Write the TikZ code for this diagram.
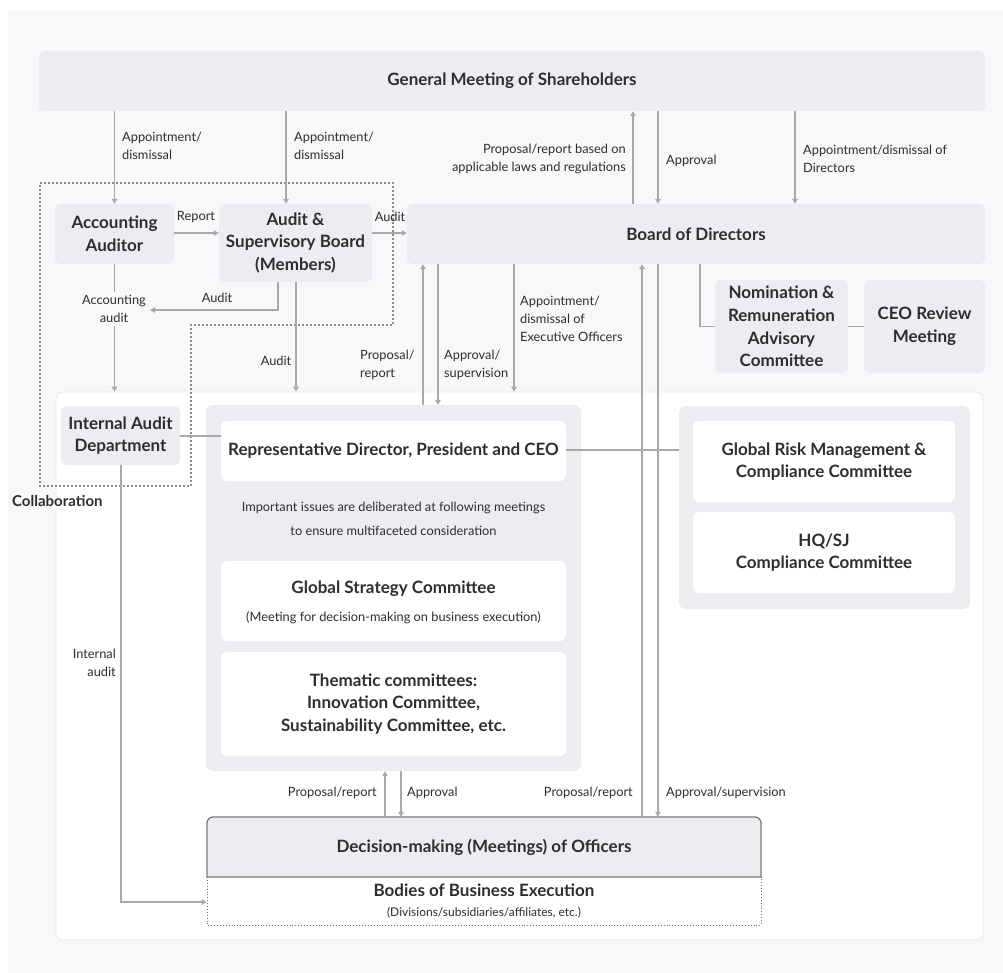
\documentclass[tikz,border=0pt]{standalone}
\usepackage{fontspec}
\setmainfont{Lato}
\usetikzlibrary{arrows.meta}
\definecolor{bgc}{HTML}{F7F8FA}
\definecolor{boxc}{HTML}{EBEDF1}
\definecolor{txtc}{HTML}{2E2E2E}
\definecolor{arrc}{HTML}{A9A9AB}
\definecolor{panelb}{HTML}{E7E9EC}
\definecolor{decb}{HTML}{7A7A7A}
\definecolor{dotc}{HTML}{8A8A8A}
\begin{document}
\begin{tikzpicture}[x=1pt,y=-1pt,
  every node/.style={text=txtc, inner sep=0pt},
  title/.style={font=\fontsize{17}{22.7}\selectfont\bfseries, align=center},
  gbox/.style={fill=boxc, rounded corners=6pt, title},
  wbox/.style={fill=white, rounded corners=6pt, title},
  lbl/.style={font=\fontsize{12.8}{18}\selectfont, align=left},
  lblr/.style={font=\fontsize{12.8}{18}\selectfont, align=right},
  conn/.style={draw=arrc, line width=1.6pt},
  arr/.style={conn, -{Triangle[length=5pt,width=5.5pt]}},
]
\useasboundingbox (0,0) rectangle (1003,973);
\fill[white] (0,0) rectangle (1003,973);
\fill[bgc] (8,11) rectangle (1003,973);

% top row
\node[gbox, minimum width=946pt, minimum height=60pt] (gms) at (512,81) {General Meeting of Shareholders};
\node[gbox, minimum width=119pt, minimum height=60pt] (acc) at (114.5,234) {Accounting\\Auditor};
\node[gbox, minimum width=153pt, minimum height=78pt] (asb) at (295.5,243) {Audit \&\\Supervisory Board\\(Members)};
\node[gbox, minimum width=578pt, minimum height=60pt] (bod) at (696,234) {Board of Directors};
\node[gbox, minimum width=133pt, minimum height=93pt] (nom) at (781.5,326.5) {Nomination \&\\Remuneration\\Advisory\\Committee};
\node[gbox, minimum width=121pt, minimum height=93pt] (cer) at (924.5,326.5) {CEO Review\\Meeting};

% execution panel
\node[fill=white, draw=panelb, line width=0.8pt, rounded corners=7pt, minimum width=927pt, minimum height=548pt] (exe) at (519.5,666) {};
\node[gbox, minimum width=119pt, minimum height=59pt] (iad) at (120.5,435.5) {Internal Audit\\Department};
\node[fill=boxc, rounded corners=7pt, minimum width=375pt, minimum height=366pt] (cpan) at (393.5,588) {};
\node[wbox, minimum width=345pt, minimum height=60pt] (ceo) at (393.5,451) {Representative Director, President and CEO};
\node[font=\fontsize{12.8}{24}\selectfont, align=center] (note) at (393.5,519) {Important issues are deliberated at following meetings\\to ensure multifaceted consideration};
\node[wbox, minimum width=345pt, minimum height=80pt] (gsc) at (393.5,601) {};
\node[title] (gsct) at (393.5,589) {Global Strategy Committee};
\node[font=\fontsize{12.8}{14}\selectfont] (gscs) at (393.5,618) {(Meeting for decision-making on business execution)};
\node[wbox, minimum width=345pt, minimum height=104pt] (them) at (393.5,704) {Thematic committees:\\Innovation Committee,\\Sustainability Committee, etc.};

\node[fill=boxc, rounded corners=7pt, minimum width=291pt, minimum height=203pt] (rpan) at (824.5,507.5) {};
\node[wbox, minimum width=262pt, minimum height=81pt] (grm) at (824,461.5) {Global Risk Management \&\\Compliance Committee};
\node[wbox, minimum width=262pt, minimum height=81pt] (hq) at (824,552.5) {HQ/SJ\\Compliance Committee};

% decision-making and bodies
\draw[dotc!80!black, dotted, line width=0.9pt] (207,877) -- (207,925) -- (761,925) -- (761,877);
\draw[draw=decb, line width=1.3pt, fill=boxc] (207,877) [rounded corners=6pt] -- (207,817) -- (761,817) [sharp corners] -- (761,877) -- cycle;
\node[title, minimum width=554pt, minimum height=60pt] (dec) at (484,847) {Decision-making (Meetings) of Officers};
\node[minimum width=554pt, minimum height=48pt] (bbe) at (484,901) {};
\node[title] (bbet) at (484,890) {Bodies of Business Execution};
\node[font=\fontsize{12}{13}\selectfont] (bbes) at (484,913) {(Divisions/subsidiaries/affiliates, etc.)};

% collaboration outline
\draw[dotc, line width=1.6pt, dash pattern=on 1.8pt off 2.2pt] (40,183) -- (393,183) -- (393,325) -- (191,325) -- (191,486) -- (40,486) -- cycle;
\node[font=\fontsize{15}{17}\selectfont\bfseries, anchor=west] (collab) at (12,501) {Collaboration};

% connectors: top
\draw[arr] (acc.north |- gms.south) -- (acc.north);
\draw[arr] (286,0 |- gms.south) -- (286,0 |- asb.north);
\draw[arr] (633,0 |- bod.north) -- (633,0 |- gms.south);
\draw[arr] (658,0 |- gms.south) -- (658,0 |- bod.north);
\draw[arr] (795,0 |- gms.south) -- (795,0 |- bod.north);
\draw[arr] (acc.east |- 0,233) -- (asb.west |- 0,233);
\draw[arr] (asb.east |- 0,233) -- (bod.west |- 0,233);

% accounting audit
\draw[arr] (acc.south) -- (acc.south |- exe.north);
\draw[arr] (278,0 |- asb.south) -- (278,310) -- (150,310);
\draw[arr] (296,0 |- asb.south) -- (296,0 |- exe.north);
\draw[arr] (423,0 |- cpan.north) -- (423,0 |- bod.south);
\draw[arr] (438,0 |- bod.south) -- (438,0 |- cpan.north);
\draw[arr] (514,0 |- bod.south) -- (514,0 |- exe.north);
\draw[conn] (700,0 |- bod.south) -- (700,0 |- nom.west) -- (nom.west);
\draw[conn] (nom.east) -- (cer.west);

% inside execution
\draw[conn] (iad.east |- 0,436) -- (ceo.west |- 0,436);
\draw[conn] (ceo.east |- 0,450) -- (rpan.west |- 0,450);
\draw[arr] (385,0 |- dec.north) -- (385,0 |- cpan.south);
\draw[arr] (401,0 |- cpan.south) -- (401,0 |- dec.north);
\draw[arr] (642,0 |- dec.north) -- (642,0 |- bod.south);
\draw[arr] (658,0 |- bod.south) -- (658,0 |- dec.north);
\draw[arr] (121,0 |- iad.south) -- (121,902) -- (bbe.west |- 0,902);

% labels
\node[lbl, anchor=west] (l1) at (122,146) {Appointment/\\dismissal};
\node[lbl, anchor=west] (l2) at (294,146) {Appointment/\\dismissal};
\node[lblr, anchor=east] (l3) at (626,159) {Proposal/report based on\\applicable laws and regulations};
\node[lbl, anchor=west] (l4) at (666,161) {Approval};
\node[lbl, anchor=west] (l5) at (803,159) {Appointment/dismissal of\\Directors};
\node[lbl] (l6) at (196,217) {Report};
\node[lbl] (l7) at (390,217) {Audit};
\node[lbl, align=center, fill=bgc, inner xsep=2pt, inner ysep=3pt] (l8) at (114,309) {Accounting\\audit};
\node[lbl] (l9) at (217,298) {Audit};
\node[lbl] (l10) at (276,361) {Audit};
\node[lbl, anchor=west] (l11) at (360,365) {Proposal/\\report};
\node[lbl, anchor=west] (l12) at (444,365) {Approval/\\supervision};
\node[lbl, anchor=west] (l13) at (520,319) {Appointment/\\dismissal of\\Executive Officers};
\node[lblr, anchor=east] (l14) at (116,663) {Internal\\audit};
\node[lbl, anchor=east] (l15) at (377,793) {Proposal/report};
\node[lbl, anchor=west] (l16) at (407,793) {Approval};
\node[lbl, anchor=east] (l17) at (633,793) {Proposal/report};
\node[lbl, anchor=west] (l18) at (666,793) {Approval/supervision};
\end{tikzpicture}
\end{document}
